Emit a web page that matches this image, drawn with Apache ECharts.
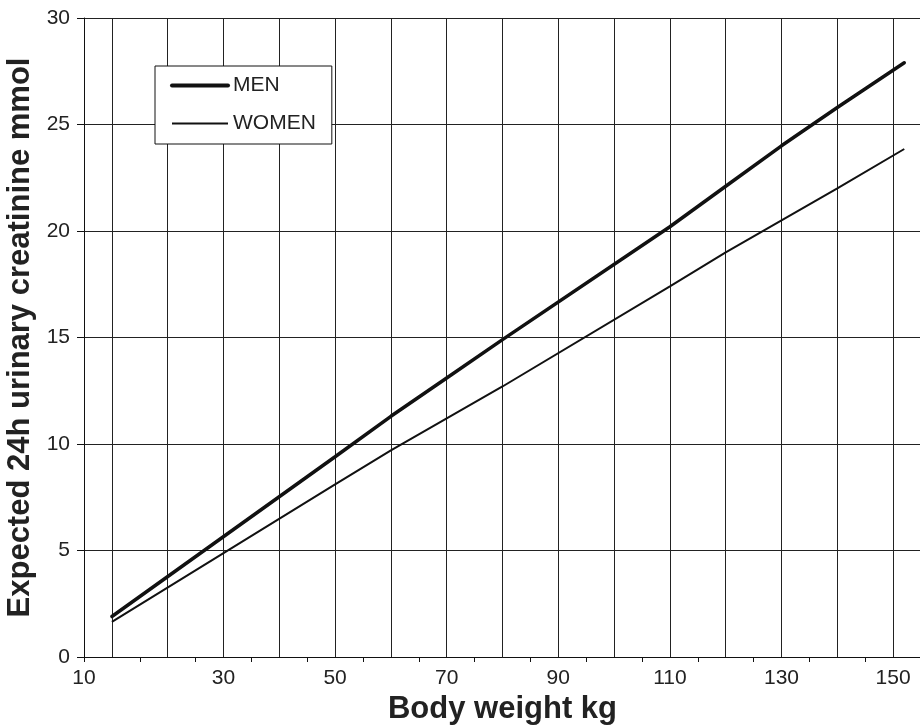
<!DOCTYPE html>
<html>
<head>
<meta charset="utf-8">
<script src="https://cdn.jsdelivr.net/npm/echarts@6/dist/echarts.min.js"></script>
<style>
  html, body { margin: 0; padding: 0; background: #fff; }
  #chart { width: 920px; height: 725px; }
</style>
</head>
<body>
<div id="chart"></div>
<script>
// body weight (kg) where the lines were read
const menWeight = [10, 50, 60, 70, 80, 110, 120, 130, 140, 152];
const menCreat = [1.9, 9.4, 11.3, 13.1, 14.9, 20.2, 22.1, 24.0, 25.8, 27.9];
const womenWeight = [10, 50, 60, 70, 80, 110, 120, 130, 140, 152];
const womenCreat = [1.65, 8.1, 9.7, 11.2, 12.7, 17.4, 19.0, 20.5, 22.0, 23.85];

// x axis: gridlines every 10, small ticks in between, labels as printed
const xGridValues = [10, 20, 30, 40, 50, 60, 70, 80, 90, 100, 110, 120, 130, 140, 150];
const xTickValues = [5, 15, 25, 35, 45, 55, 65, 75, 85, 95, 105, 115, 125, 135, 145];
const xLabelValues = [5, 30, 50, 70, 90, 110, 130, 150];
const xLabelTexts = ["10", "30", "50", "70", "90", "110", "130", "150"];

const chart = echarts.init(document.getElementById("chart"));

const font = "Liberation Sans, Arial, sans-serif";
const hideDot = { color: "rgba(0,0,0,0)", borderWidth: 0, opacity: 0 };

chart.setOption({
  animation: false,
  backgroundColor: "#fff",
  textStyle: { fontFamily: font },
  grid: { left: 84, top: 18, width: 837, bottom: 68, outerBoundsMode: "none", containLabel: false },
  legend: {
    orient: "vertical",
    left: 155,
    top: 66,
    padding: [9, 16, 10, 15],
    itemWidth: 56,
    itemHeight: 14,
    itemGap: 17,
    backgroundColor: "#fff",
    borderColor: "#111",
    borderWidth: 1,
    textStyle: { fontSize: 21, color: "#222", fontFamily: font },
    data: [
      { name: "MEN", lineStyle: { width: 4 }, itemStyle: hideDot },
      { name: "WOMEN", lineStyle: { width: 2 }, itemStyle: hideDot }
    ]
  },
  xAxis: [
    {
      type: "value",
      min: 5,
      max: 155,
      name: "Body weight kg",
      nameLocation: "middle",
      nameGap: 28,
      nameTextStyle: { fontSize: 31, fontWeight: "bold", color: "#222", fontFamily: font },
      axisLine: { lineStyle: { color: "#111", width: 1 } },
      axisTick: { show: true, length: 5, customValues: xTickValues, lineStyle: { color: "#111" } },
      axisLabel: {
        customValues: xLabelValues,
        margin: 11,
        fontSize: 21,
        color: "#222",
        formatter: function (v) {
          return xLabelTexts[xLabelValues.indexOf(v)];
        }
      },
      splitLine: { show: false }
    },
    {
      // carries only the vertical gridlines
      type: "value",
      position: "bottom",
      min: 5,
      max: 155,
      axisLine: { show: false },
      axisLabel: { show: false },
      axisTick: { show: false, customValues: xGridValues },
      splitLine: { show: true, lineStyle: { color: "#222", width: 1 } }
    }
  ],
  yAxis: {
    type: "value",
    min: 0,
    max: 30,
    interval: 5,
    name: "Expected 24h urinary creatinine mmol",
    nameLocation: "middle",
    nameGap: 46,
    nameTextStyle: { fontSize: 31, fontWeight: "bold", color: "#222", fontFamily: font },
    axisLine: { show: true, lineStyle: { color: "#111", width: 1 } },
    axisTick: { show: true, length: 7, lineStyle: { color: "#111" } },
    axisLabel: { margin: 14, fontSize: 21, color: "#222" },
    splitLine: { show: true, lineStyle: { color: "#222", width: 1 } }
  },
  series: [
    {
      name: "MEN",
      type: "line",
      symbol: "none",
      xAxisIndex: 0,
      data: menWeight.map((w, i) => [w, menCreat[i]]),
      lineStyle: { color: "#111", width: 3.5, cap: "round" },
      itemStyle: { color: "#111" },
      z: 3
    },
    {
      name: "WOMEN",
      type: "line",
      symbol: "none",
      xAxisIndex: 0,
      data: womenWeight.map((w, i) => [w, womenCreat[i]]),
      lineStyle: { color: "#111", width: 2 },
      itemStyle: { color: "#111" },
      z: 3
    }
  ]
});
</script>
</body>
</html>
